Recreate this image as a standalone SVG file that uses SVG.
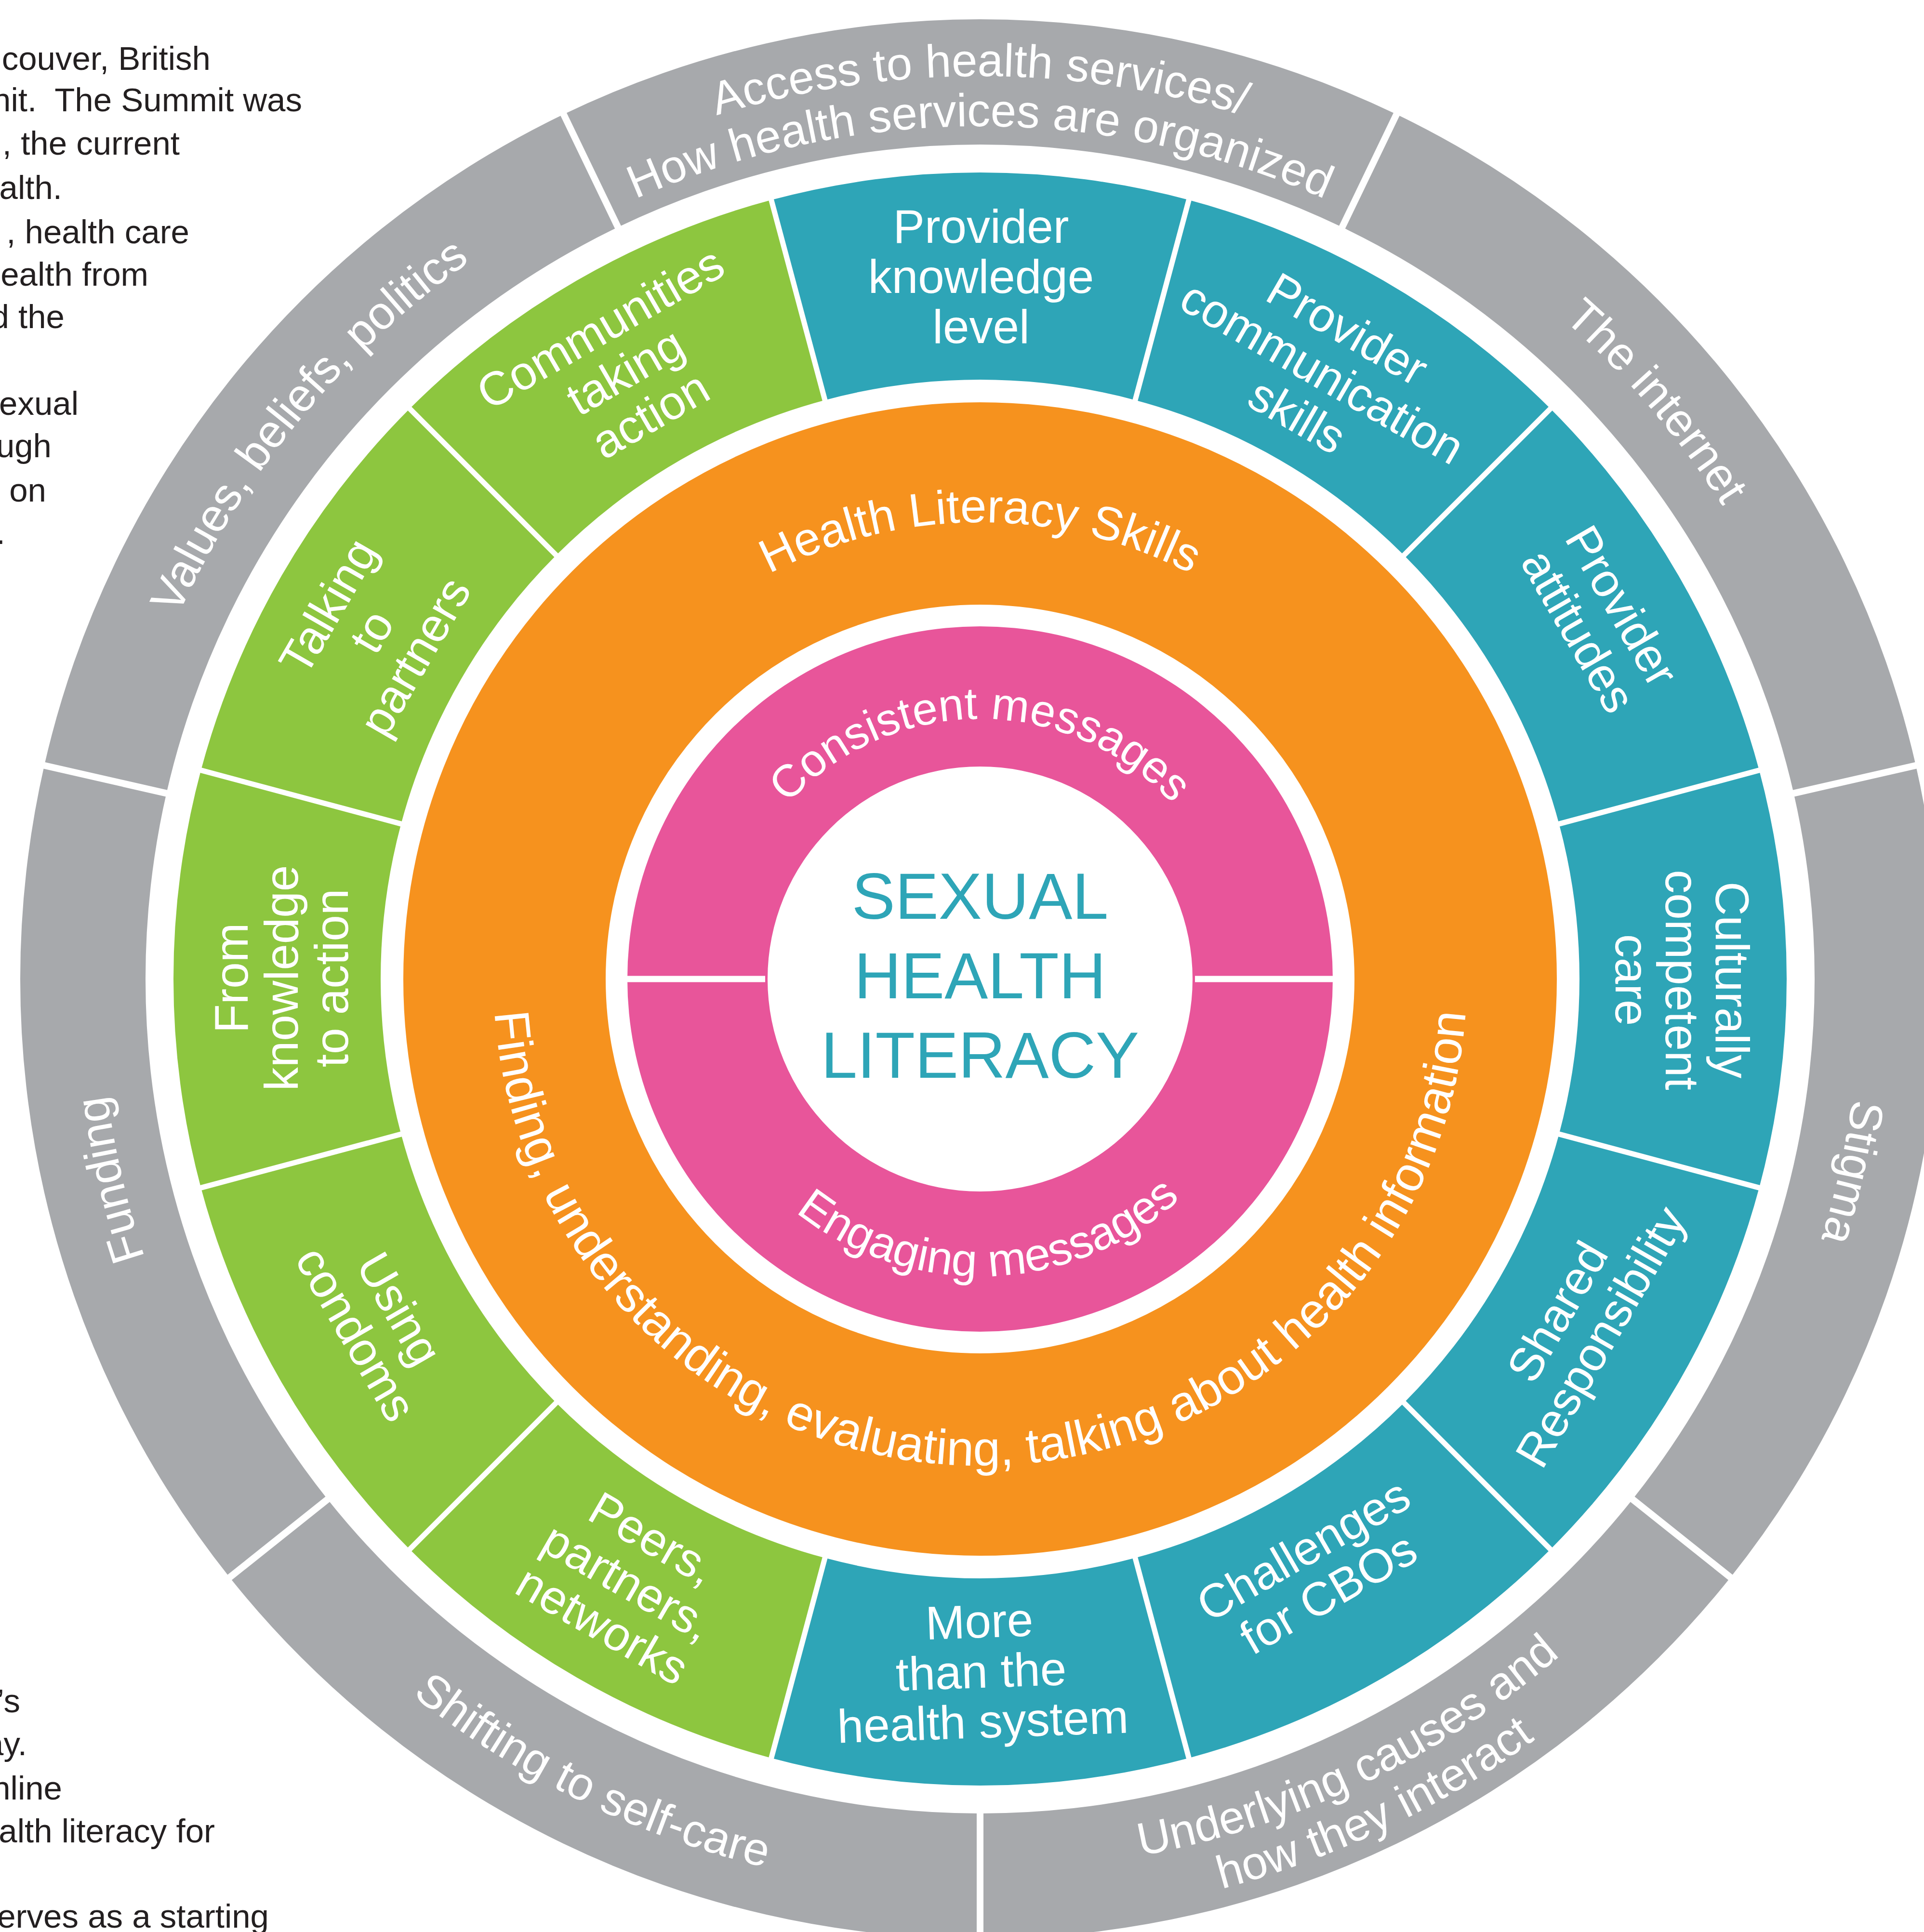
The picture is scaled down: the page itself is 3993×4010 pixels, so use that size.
<svg xmlns="http://www.w3.org/2000/svg" xmlns:xlink="http://www.w3.org/1999/xlink" width="3993" height="4010" viewBox="0 0 3993 4010">
<style>
.gray{fill:#A7A9AC}
.teal{fill:#2EA5B7}
.green{fill:#8DC63F}
.lbl{font-family:"Liberation Sans",Arial,sans-serif;fill:#fff}
.mid{font-size:98px;text-anchor:middle}
.outer{font-size:96px;text-anchor:middle}
.ring{font-size:98px;text-anchor:middle}
.para{font-family:"Liberation Sans",Arial,sans-serif;fill:#231F20;font-size:69px;text-anchor:end}
.dv{stroke:#fff;fill:none}
</style>
<defs>
<path id="aT1874" d="M 160 2032 A 1874 1874 0 0 1 3908 2032"/>
<path id="aT1770" d="M 264 2032 A 1770 1770 0 0 1 3804 2032"/>
<path id="aT1828" d="M 206 2032 A 1828 1828 0 0 1 3862 2032"/>
<path id="aB1897" d="M 137 2032 A 1897 1897 0 0 0 3931 2032"/>
<path id="aB1850" d="M 184 2032 A 1850 1850 0 0 0 3884 2032"/>
<path id="aB1954" d="M 80 2032 A 1954 1954 0 0 0 3988 2032"/>
<path id="aT948" d="M 1086 2032 A 948 948 0 0 1 2982 2032"/>
<path id="aB1010" d="M 1024 2032 A 1010 1010 0 0 0 3044 2032"/>
<path id="aT540" d="M 1494 2032 A 540 540 0 0 1 2574 2032"/>
<path id="aB617" d="M 1417 2032 A 617 617 0 0 0 2651 2032"/>
</defs>
<rect width="3993" height="4010" fill="#fff"/>

<g id="side-text">
<text class="para" x="437" y="145">couver, British</text>
<text class="para" x="627" y="231" xml:space="preserve">nit.  The Summit was</text>
<text class="para" x="373" y="321">, the current</text>
<text class="para" x="129" y="413">alth.</text>
<text class="para" x="393" y="505">, health care</text>
<text class="para" x="308" y="593">ealth from</text>
<text class="para" x="134" y="681">d the</text>
<text class="para" x="163" y="861">exual</text>
<text class="para" x="107" y="949">ugh</text>
<text class="para" x="96" y="1041">g on</text>
<text class="para" x="11" y="1129">.</text>
<text class="para" x="42" y="3554">’s</text>
<text class="para" x="56" y="3643">ay.</text>
<text class="para" x="129" y="3735">nline</text>
<text class="para" x="446" y="3824">alth literacy for</text>
<text class="para" x="558" y="4001">erves as a starting</text>
</g>

<!-- outer ring -->
<g id="outer-access">
<path class="gray" d="M 1169.70 237.27 A 1992 1992 0 0 1 2898.30 237.27 L 2785.49 471.52 A 1732 1732 0 0 0 1282.51 471.52 Z"/>
<text class="lbl outer"><textPath href="#aT1874" startOffset="50%">Access to health services/</textPath></text>
<text class="lbl outer"><textPath href="#aT1770" startOffset="50%">How health services are organized</textPath></text>
</g>
<g id="outer-internet">
<path class="gray" d="M 2898.30 237.27 A 1992 1992 0 0 1 3976.06 1588.74 L 3722.58 1646.59 A 1732 1732 0 0 0 2785.49 471.52 Z"/>
<text class="lbl outer" transform="rotate(49.5 2034 2032)"><textPath href="#aT1828" startOffset="50%">The internet</textPath></text>
</g>
<g id="outer-stigma">
<path class="gray" d="M 3976.06 1588.74 A 1992 1992 0 0 1 3591.41 3274.01 L 3388.13 3111.88 A 1732 1732 0 0 0 3722.58 1646.59 Z"/>
<text class="lbl outer" transform="rotate(102.5 2034 2032)"><textPath href="#aT1828" startOffset="50%">Stigma</textPath></text>
</g>
<g id="outer-underlying">
<path class="gray" d="M 3591.41 3274.01 A 1992 1992 0 0 1 2034 4024 L 2034 3764 A 1732 1732 0 0 0 3388.13 3111.88 Z"/>
<text class="lbl outer" transform="rotate(-25.5 2034 2032)"><textPath href="#aB1850" startOffset="50%">Underlying causes and</textPath></text>
<text class="lbl outer" transform="rotate(-25.5 2034 2032)"><textPath href="#aB1954" startOffset="50%">how they interact</textPath></text>
</g>
<g id="outer-selfcare">
<path class="gray" d="M 2034 4024 A 1992 1992 0 0 1 476.59 3274.01 L 679.87 3111.88 A 1732 1732 0 0 0 2034 3764 Z"/>
<text class="lbl outer" transform="rotate(26 2034 2032)"><textPath href="#aB1897" startOffset="50%">Shifting to self-care</textPath></text>
</g>
<g id="outer-funding">
<path class="gray" d="M 476.59 3274.01 A 1992 1992 0 0 1 91.94 1588.74 L 345.42 1646.59 A 1732 1732 0 0 0 679.87 3111.88 Z"/>
<text class="lbl outer" transform="rotate(257 2034 2032)"><textPath href="#aT1828" startOffset="50%">Funding</textPath></text>
</g>
<g id="outer-values">
<path class="gray" d="M 91.94 1588.74 A 1992 1992 0 0 1 1169.70 237.27 L 1282.51 471.52 A 1732 1732 0 0 0 345.42 1646.59 Z"/>
<text class="lbl outer" transform="rotate(309.5 2034 2032)"><textPath href="#aT1828" startOffset="50%">Values, beliefs, politics</textPath></text>
</g>

<!-- middle ring -->
<g id="mid-provider-knowledge">
<path class="teal" d="M 1600.74 415.04 A 1674 1674 0 0 1 2467.26 415.04 L 2355.97 830.39 A 1244 1244 0 0 0 1712.03 830.39 Z"/>
<text class="lbl mid" transform="translate(2036 573)"><tspan x="0" y="-69">Provider</tspan><tspan x="0" y="35">knowledge</tspan><tspan x="0" y="139">level</tspan></text>
</g>
<g id="mid-provider-communication">
<path class="teal" d="M 2467.26 415.04 A 1674 1674 0 0 1 3217.70 848.30 L 2913.64 1152.36 A 1244 1244 0 0 0 2355.97 830.39 Z"/>
<text class="lbl mid" transform="translate(2745 772) rotate(30)"><tspan x="0" y="-69">Provider</tspan><tspan x="0" y="35">communication</tspan><tspan x="0" y="139">skills</tspan></text>
</g>
<g id="mid-provider-attitudes">
<path class="teal" d="M 3217.70 848.30 A 1674 1674 0 0 1 3650.96 1598.74 L 3235.61 1710.03 A 1244 1244 0 0 0 2913.64 1152.36 Z"/>
<text class="lbl mid" transform="translate(3322 1283) rotate(60)"><tspan x="0" y="-17">Provider</tspan><tspan x="0" y="87">attitudes</tspan></text>
</g>
<g id="mid-culturally">
<path class="teal" d="M 3650.96 1598.74 A 1674 1674 0 0 1 3650.96 2465.26 L 3235.61 2353.97 A 1244 1244 0 0 0 3235.61 1710.03 Z"/>
<text class="lbl mid" transform="translate(3492 2034) rotate(90)"><tspan x="0" y="-69">Culturally</tspan><tspan x="0" y="35">competent</tspan><tspan x="0" y="139">care</tspan></text>
</g>
<g id="mid-shared">
<path class="teal" d="M 3650.96 2465.26 A 1674 1674 0 0 1 3217.70 3215.70 L 2913.64 2911.64 A 1244 1244 0 0 0 3235.61 2353.97 Z"/>
<text class="lbl mid" transform="translate(3276 2748) rotate(-60)"><tspan x="0" y="-17">Shared</tspan><tspan x="0" y="87">Responsibility</tspan></text>
</g>
<g id="mid-challenges">
<path class="teal" d="M 3217.70 3215.70 A 1674 1674 0 0 1 2467.26 3648.96 L 2355.97 3233.61 A 1244 1244 0 0 0 2913.64 2911.64 Z"/>
<text class="lbl mid" transform="translate(2730 3261) rotate(-30)"><tspan x="0" y="-17">Challenges</tspan><tspan x="0" y="87">for CBOs</tspan></text>
</g>
<g id="mid-more">
<path class="teal" d="M 2467.26 3648.96 A 1674 1674 0 0 1 1600.74 3648.96 L 1712.03 3233.61 A 1244 1244 0 0 0 2355.97 3233.61 Z"/>
<text class="lbl mid" transform="translate(2036 3468) rotate(-2)"><tspan x="0" y="-69">More</tspan><tspan x="0" y="35">than the</tspan><tspan x="0" y="139">health system</tspan></text>
</g>
<g id="mid-peers">
<path class="green" d="M 1600.74 3648.96 A 1674 1674 0 0 1 850.30 3215.70 L 1154.36 2911.64 A 1244 1244 0 0 0 1712.03 3233.61 Z"/>
<text class="lbl mid" transform="translate(1303 3282) rotate(30)"><tspan x="0" y="-69">Peers,</tspan><tspan x="0" y="35">partners,</tspan><tspan x="0" y="139">networks</tspan></text>
</g>
<g id="mid-condoms">
<path class="green" d="M 850.30 3215.70 A 1674 1674 0 0 1 417.04 2465.26 L 832.39 2353.97 A 1244 1244 0 0 0 1154.36 2911.64 Z"/>
<text class="lbl mid" transform="translate(785 2742) rotate(60)"><tspan x="0" y="-17">Using</tspan><tspan x="0" y="87">condoms</tspan></text>
</g>
<g id="mid-from-knowledge">
<path class="green" d="M 417.04 2465.26 A 1674 1674 0 0 1 417.04 1598.74 L 832.39 1710.03 A 1244 1244 0 0 0 832.39 2353.97 Z"/>
<text class="lbl mid" transform="translate(583 2030) rotate(-90)"><tspan x="0" y="-69">From</tspan><tspan x="0" y="35">knowledge</tspan><tspan x="0" y="139">to action</tspan></text>
</g>
<g id="mid-talking">
<path class="green" d="M 417.04 1598.74 A 1674 1674 0 0 1 850.30 848.30 L 1154.36 1152.36 A 1244 1244 0 0 0 832.39 1710.03 Z"/>
<text class="lbl mid" transform="translate(770 1310) rotate(-60)"><tspan x="0" y="-69">Talking</tspan><tspan x="0" y="35">to</tspan><tspan x="0" y="139">partners</tspan></text>
</g>
<g id="mid-communities">
<path class="green" d="M 850.30 848.30 A 1674 1674 0 0 1 1600.74 415.04 L 1712.03 830.39 A 1244 1244 0 0 0 1154.36 1152.36 Z"/>
<text class="lbl mid" transform="translate(1297 770) rotate(-30)"><tspan x="0" y="-69">Communities</tspan><tspan x="0" y="35">taking</tspan><tspan x="0" y="139">action</tspan></text>
</g>

<!-- orange ring -->
<g id="health-literacy-skills">
<circle cx="2034" cy="2032" r="987" fill="none" stroke="#F6921E" stroke-width="420"/>
<text class="lbl ring"><textPath href="#aT948" startOffset="50%">Health Literacy Skills</textPath></text>
<text class="lbl ring" style="font-size:102px"><textPath href="#aB1010" startOffset="50%">Finding, understanding, evaluating, talking about health information</textPath></text>
</g>

<!-- pink ring -->
<g id="consistent-messages">
<path fill="#E8559A" d="M 1302 2032 A 732 732 0 0 1 2766 2032 L 2475 2032 A 441 441 0 0 0 1593 2032 Z"/>
<text class="lbl ring" style="font-size:94px"><textPath href="#aT540" startOffset="50%">Consistent messages</textPath></text>
</g>
<g id="engaging-messages">
<path fill="#E8559A" d="M 2766 2032 A 732 732 0 0 1 1302 2032 L 1593 2032 A 441 441 0 0 0 2475 2032 Z"/>
<text class="lbl ring" style="font-size:96px" transform="rotate(-2 2034 2032)"><textPath href="#aB617" startOffset="50%">Engaging messages</textPath></text>
</g>

<g id="center">
<text font-family="Liberation Sans, Arial, sans-serif" font-size="135" fill="#2EA5B7" text-anchor="middle"><tspan x="2034" y="1907">SEXUAL</tspan><tspan x="2034" y="2072">HEALTH</tspan><tspan x="2034" y="2237">LITERACY</tspan></text>
</g>

<g id="dividers">
<g class="dv" stroke-width="14">
<line x1="2034" y1="4032" x2="2034" y2="3757"/>
<line x1="470.34" y1="3278.98" x2="685.34" y2="3107.52"/>
<line x1="84.14" y1="1586.96" x2="352.25" y2="1648.15"/>
<line x1="1166.23" y1="230.06" x2="1285.55" y2="477.83"/>
<line x1="2901.77" y1="230.06" x2="2782.45" y2="477.83"/>
<line x1="3983.86" y1="1586.96" x2="3715.75" y2="1648.15"/>
<line x1="3597.66" y1="3278.98" x2="3382.66" y2="3107.52"/>
</g>
<g class="dv" stroke-width="11">
<line x1="3658.69" y1="2467.33" x2="3227.88" y2="2351.90"/>
<line x1="3223.35" y1="3221.35" x2="2907.98" y2="2905.98"/>
<line x1="2469.33" y1="3656.69" x2="2353.90" y2="3225.88"/>
<line x1="1598.67" y1="3656.69" x2="1714.10" y2="3225.88"/>
<line x1="844.65" y1="3221.35" x2="1160.02" y2="2905.98"/>
<line x1="409.31" y1="2467.33" x2="840.12" y2="2351.90"/>
<line x1="409.31" y1="1596.67" x2="840.12" y2="1712.10"/>
<line x1="844.65" y1="842.65" x2="1160.02" y2="1158.02"/>
<line x1="1598.67" y1="407.31" x2="1714.10" y2="838.12"/>
<line x1="2469.33" y1="407.31" x2="2353.90" y2="838.12"/>
<line x1="3223.35" y1="842.65" x2="2907.98" y2="1158.02"/>
<line x1="3658.69" y1="1596.67" x2="3227.88" y2="1712.10"/>
</g>
<g class="dv" stroke-width="13">
<line x1="1290" y1="2032" x2="1588" y2="2032"/>
<line x1="2480" y1="2032" x2="2778" y2="2032"/>
</g>
</g>
</svg>
